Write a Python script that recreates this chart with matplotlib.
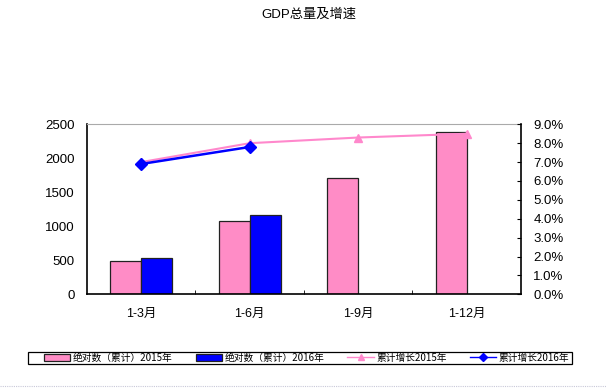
import matplotlib
matplotlib.use("Agg")
import matplotlib.pyplot as plt
import numpy as np
from matplotlib.ticker import FuncFormatter
from matplotlib.patches import Rectangle
from matplotlib.lines import Line2D

plt.rcParams['font.family'] = ['Liberation Sans', 'Noto Sans CJK SC', 'DejaVu Sans']

categories = ["1-3月", "1-6月", "1-9月", "1-12月"]
abs_2015 = [490, 1078, 1715, 2382]
abs_2016 = [529, 1166, None, None]
growth_2015 = [7.0, 8.0, 8.3, 8.5]
growth_2016 = [6.9, 7.8]
left_ticks = [0, 500, 1000, 1500, 2000, 2500]
right_ticks = [0, 1, 2, 3, 4, 5, 6, 7, 8, 9]
labels = ["绝对数（累计）2015年", "绝对数（累计）2016年", "累计增长2015年", "累计增长2016年"]

W, H = 606, 392
fig = plt.figure(figsize=(6.06, 3.92), dpi=100)
ax = fig.add_axes([0.1436, 0.2492, 0.716, 0.4337])
x = np.arange(len(categories))
w = 0.286
b1 = ax.bar(x - w/2, abs_2015, width=w, color="#ff8cc6", edgecolor="#222222", linewidth=0.9, label=labels[0])
x16 = [xi for xi, v in zip(x, abs_2016) if v is not None]
v16 = [v for v in abs_2016 if v is not None]
b2 = ax.bar(np.array(x16) + w/2, v16, width=w, color="#0000ff", edgecolor="#222222", linewidth=0.9, label=labels[1])
ax.set_xlim(-0.5, len(categories) - 0.5)
ax.set_ylim(0, 2500)
ax.set_yticks(left_ticks)
ax.set_xticks(x)
ax.set_xticklabels(categories, fontsize=9)
ax.tick_params(axis='x', length=0, pad=10)
ax.set_xticks(np.arange(0.5, len(categories) - 0.5, 1), minor=True)
ax.tick_params(axis='x', which='minor', direction='in', length=3)
ax.tick_params(axis='y', length=0, labelsize=9.5, pad=9)
for s in ['left', 'bottom']:
    ax.spines[s].set_color('black')
    ax.spines[s].set_linewidth(1.2)
ax.spines['top'].set_color('#aaaaaa')
ax.spines['top'].set_linestyle((0, (1, 1)))
ax.spines['right'].set_visible(False)

ax2 = ax.twinx()
l1, = ax2.plot(x, growth_2015, color="#ff88cc", linewidth=1.5, marker='^', markersize=6, label=labels[2])
l2, = ax2.plot(x[:len(growth_2016)], growth_2016, color="#0000ff", linewidth=1.8, marker='D', markersize=6, label=labels[3])
ax2.set_ylim(0, 9)
ax2.set_yticks(right_ticks)
ax2.yaxis.set_major_formatter(FuncFormatter(lambda v, p: f"{v:.1f}%"))
ax2.tick_params(axis='y', direction='in', length=3, labelsize=9.5, pad=9)
ax2.spines['right'].set_color('black')
ax2.spines['right'].set_linewidth(1.2)
for s in ['top', 'left', 'bottom']:
    ax2.spines[s].set_visible(False)

fig.text(0.51, 0.962, "GDP总量及增速", ha='center', va='center', fontsize=9.5,
         family=['Liberation Sans', 'Noto Sans CJK SC'])

h3 = Line2D([], [], color="#ff88cc", linewidth=1.0, marker='^', markersize=4)
h4 = Line2D([], [], color="#0000ff", linewidth=1.0, marker='D', markersize=4)
leg = fig.legend(handles=[b1, b2, h3, h4], labels=labels, loc='center',
                 bbox_to_anchor=(306.5 / W, 1 - 358 / H), ncol=4,
                 frameon=False, handlelength=2.7, handleheight=0.8,
                 columnspacing=2.4, handletextpad=0.25, borderpad=0.1,
                 prop={'family': ['Noto Sans CJK SC', 'DejaVu Sans'], 'size': 7})
fig.patches.append(Rectangle((28 / W, 1 - 364 / H), 544 / W, 12 / H, transform=fig.transFigure,
                             fill=False, edgecolor='black', linewidth=0.9))
fig.lines.append(Line2D([0, 1], [1 - 386 / H, 1 - 386 / H], transform=fig.transFigure,
                        color='#c8c8d8', linewidth=0.8, linestyle=(0, (1, 1))))

fig.savefig("out.png", dpi=100)
